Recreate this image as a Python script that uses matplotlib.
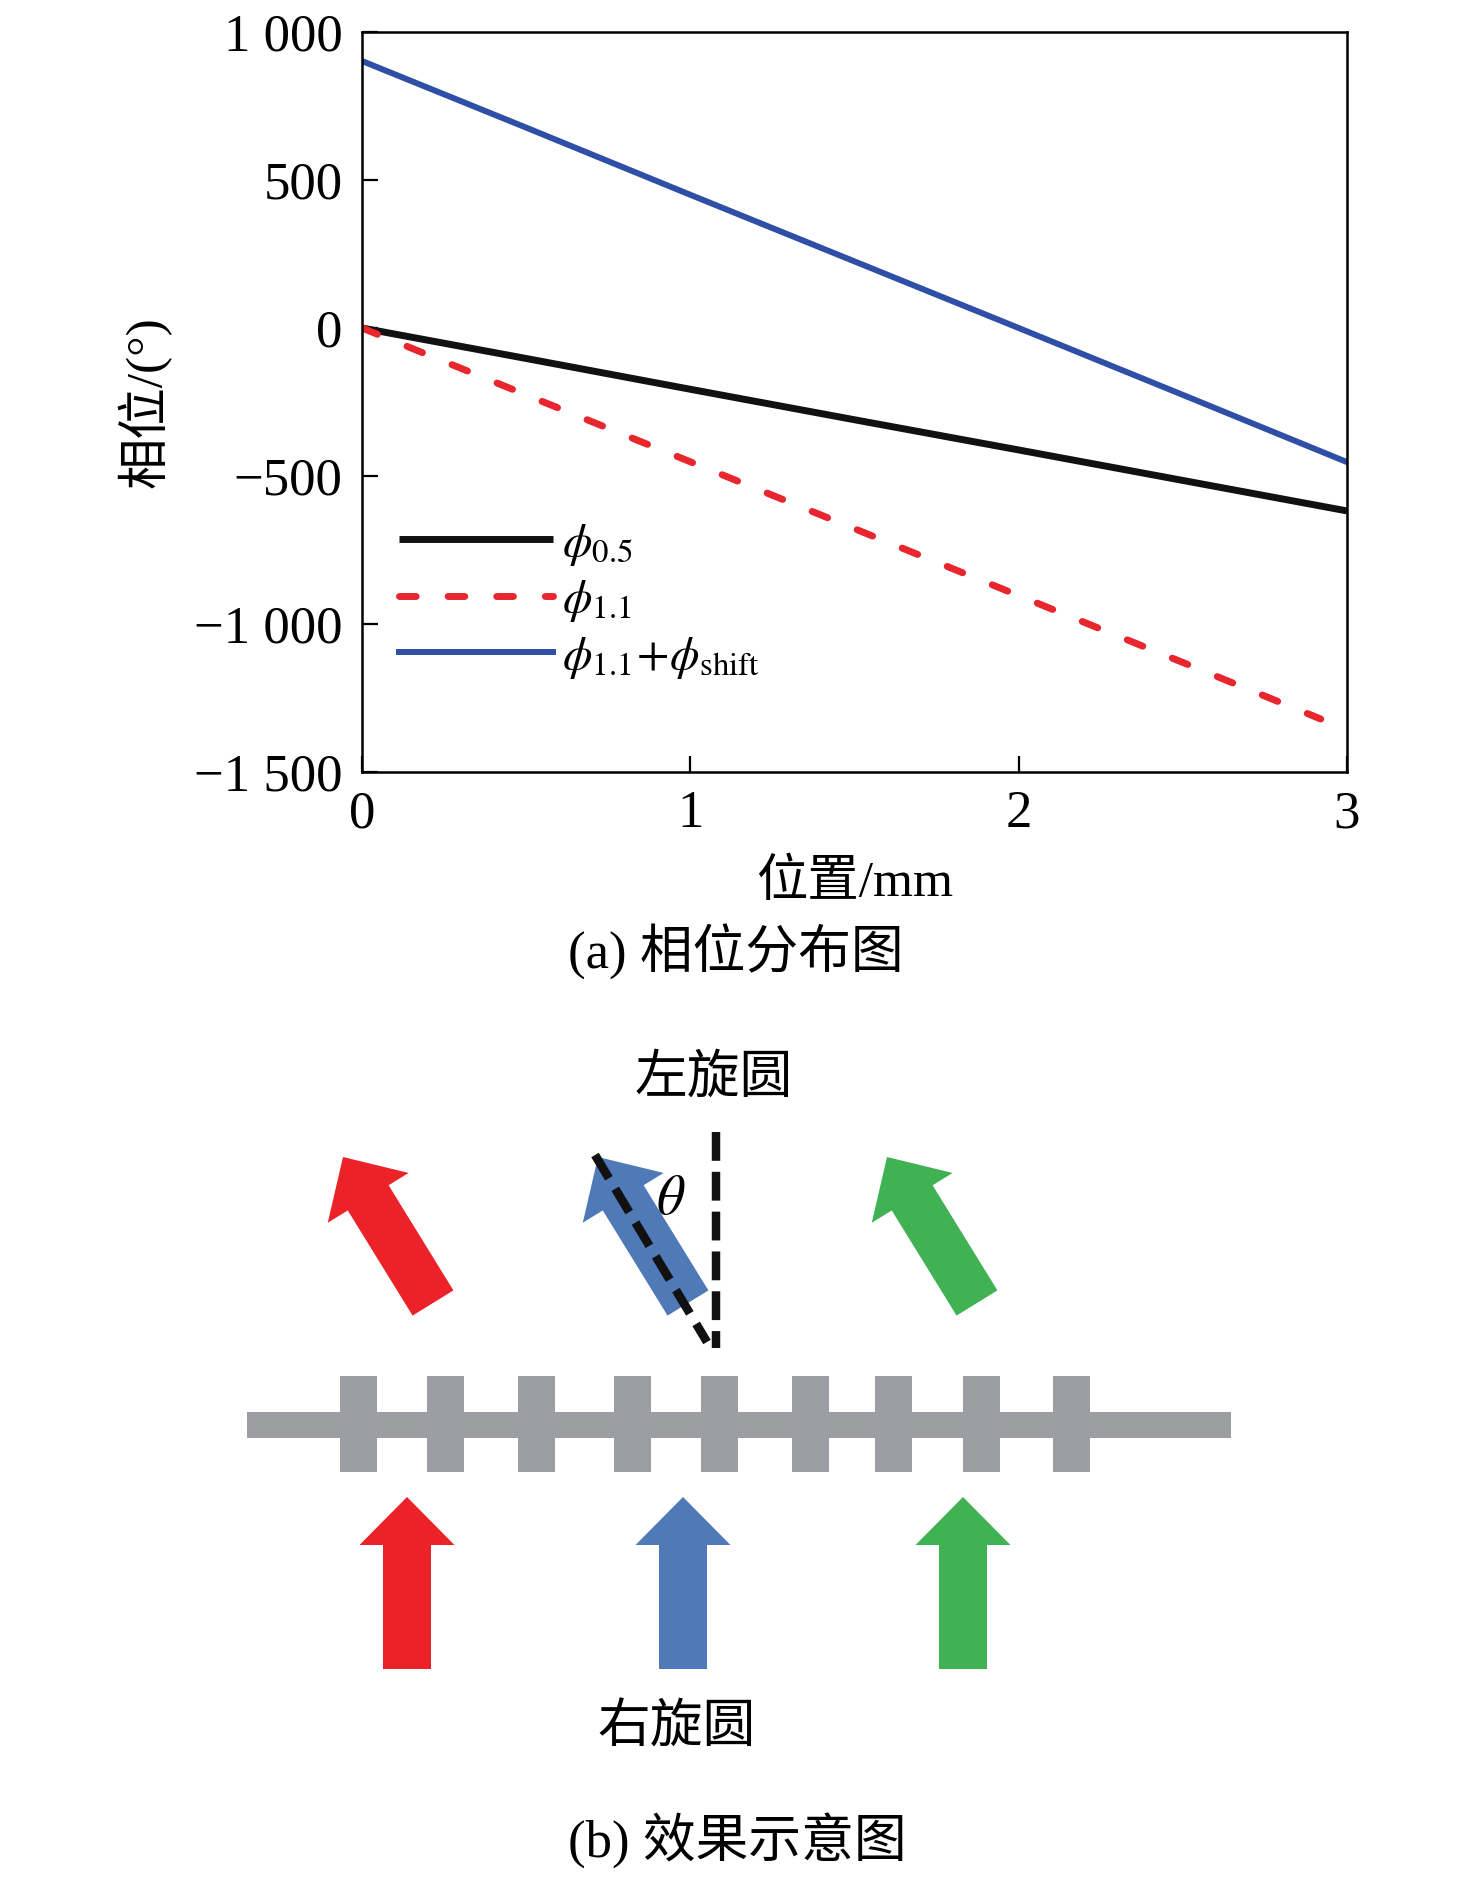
import numpy as np
import matplotlib.pyplot as plt
from matplotlib.patches import FancyArrow, Rectangle

plt.rcParams['font.family'] = ['Liberation Serif', 'Noto Sans CJK SC']
plt.rcParams['mathtext.fontset'] = 'stix'

# phase curves
pos = [0, 0.5, 1, 1.5, 2, 2.5, 3]
phi_05 = [0, -103, -207, -310, -412, -515, -618]
pos_11 = [0, 0.5, 1, 1.5, 2, 2.5, 2.92]
phi_11 = [0, -226, -452, -678, -904, -1130, -1321]
phi_shift = [902, 677, 450, 225, 0, -226, -453]

yticks = [-1500, -1000, -500, 0, 500, 1000]
ytick_labels = ['\u22121 500', '\u22121 000', '\u2212500', '0', '500', '1 000']
xticks = [0, 1, 2, 3]

# schematic (b), pixel coordinates
tooth_left = [340, 427, 518, 614, 701, 792, 875, 963, 1053]
arrow_colors = ['#ec2229', '#5079b8', '#41b254']
out_tail_x = [433, 688, 977]
in_x = [407, 683, 963]

W, H = 1476, 1878
fig = plt.figure(figsize=(W / 100, H / 100), dpi=100)

# ---- (a) phase distribution
ax = fig.add_axes([362 / W, 1 - 772 / H, 985 / W, 740 / H])
ax.plot(pos, phi_05, color='#111111', lw=5, solid_capstyle='butt', label=r'$\phi_{0.5}$')
ax.plot(pos_11, phi_11, color='#e8262d', lw=5, linestyle=(0, (2.4, 4.6)),
        dash_capstyle='round', label=r'$\phi_{1.1}$')
ax.plot(pos, phi_shift, color='#2f4fa6', lw=4.3, label=r'$\phi_{1.1}\!+\!\phi_{\rm shift}$')
ax.set_xlim(0, 3)
ax.set_ylim(-1500, 1000)
ax.set_xticks(xticks)
ax.set_xticklabels([str(t) for t in xticks])
ax.set_yticks(yticks)
ax.set_yticklabels(ytick_labels)
ax.tick_params(direction='in', length=11.5, width=1.6, labelsize=38, top=False, right=False)
ax.tick_params(axis='x', pad=13)
ax.tick_params(axis='y', pad=14)
for s in ax.spines.values():
    s.set_linewidth(1.8)
ax.set_xlabel('位置/mm', fontsize=37)
ax.xaxis.set_label_coords(0.5, -0.118)
ax.set_ylabel('相位/(°)', fontsize=37)
ax.yaxis.set_label_coords(-0.193, 0.5)
ax.legend(loc='upper left', bbox_to_anchor=(0.0376, 0.338), frameon=False, fontsize=34,
          handlelength=3.25, handletextpad=0.2, labelspacing=0.22, borderpad=0,
          borderaxespad=0)

fig.text(736 / W, 1 - 952 / H, '(a) 相位分布图', fontsize=38, ha='center', va='center')

# ---- (b) schematic
bx = fig.add_axes([0, 0, 1, 1])
bx.set_xlim(0, W)
bx.set_ylim(H, 0)
bx.axis('off')
bx.patch.set_visible(False)

gray = '#9d9ea2'
bx.add_patch(Rectangle((247, 1412), 1231 - 247, 26, color=gray, lw=0))
for xl in tooth_left:
    bx.add_patch(Rectangle((xl, 1376), 37, 96, color=gray, lw=0))

for tx, c in zip(out_tail_x, arrow_colors):
    bx.add_patch(FancyArrow(tx, 1303, -90, -146, width=48, head_width=95, head_length=48,
                            length_includes_head=True, color=c, lw=0))
for cx, c in zip(in_x, arrow_colors):
    bx.add_patch(FancyArrow(cx, 1669, 0, -172, width=48, head_width=95, head_length=48,
                            length_includes_head=True, color=c, lw=0))

bx.plot([716, 716], [1132, 1348], color='#111111', lw=6.1, linestyle=(0, (3.4, 1.3)),
        dash_capstyle='butt')
bx.plot([595, 707], [1155, 1342], color='#111111', lw=6.3, linestyle=(0, (3.1, 1.4)),
        dash_capstyle='butt')
bx.text(671, 1200, r'$\theta$', fontsize=40, ha='center', va='center')

bx.text(714, 1079, '左旋圆', fontsize=38, ha='center', va='center')
bx.text(677, 1729, '右旋圆', fontsize=38, ha='center', va='center')
bx.text(737, 1840, '(b) 效果示意图', fontsize=38, ha='center', va='center')

fig.savefig('out.png', dpi=100)
